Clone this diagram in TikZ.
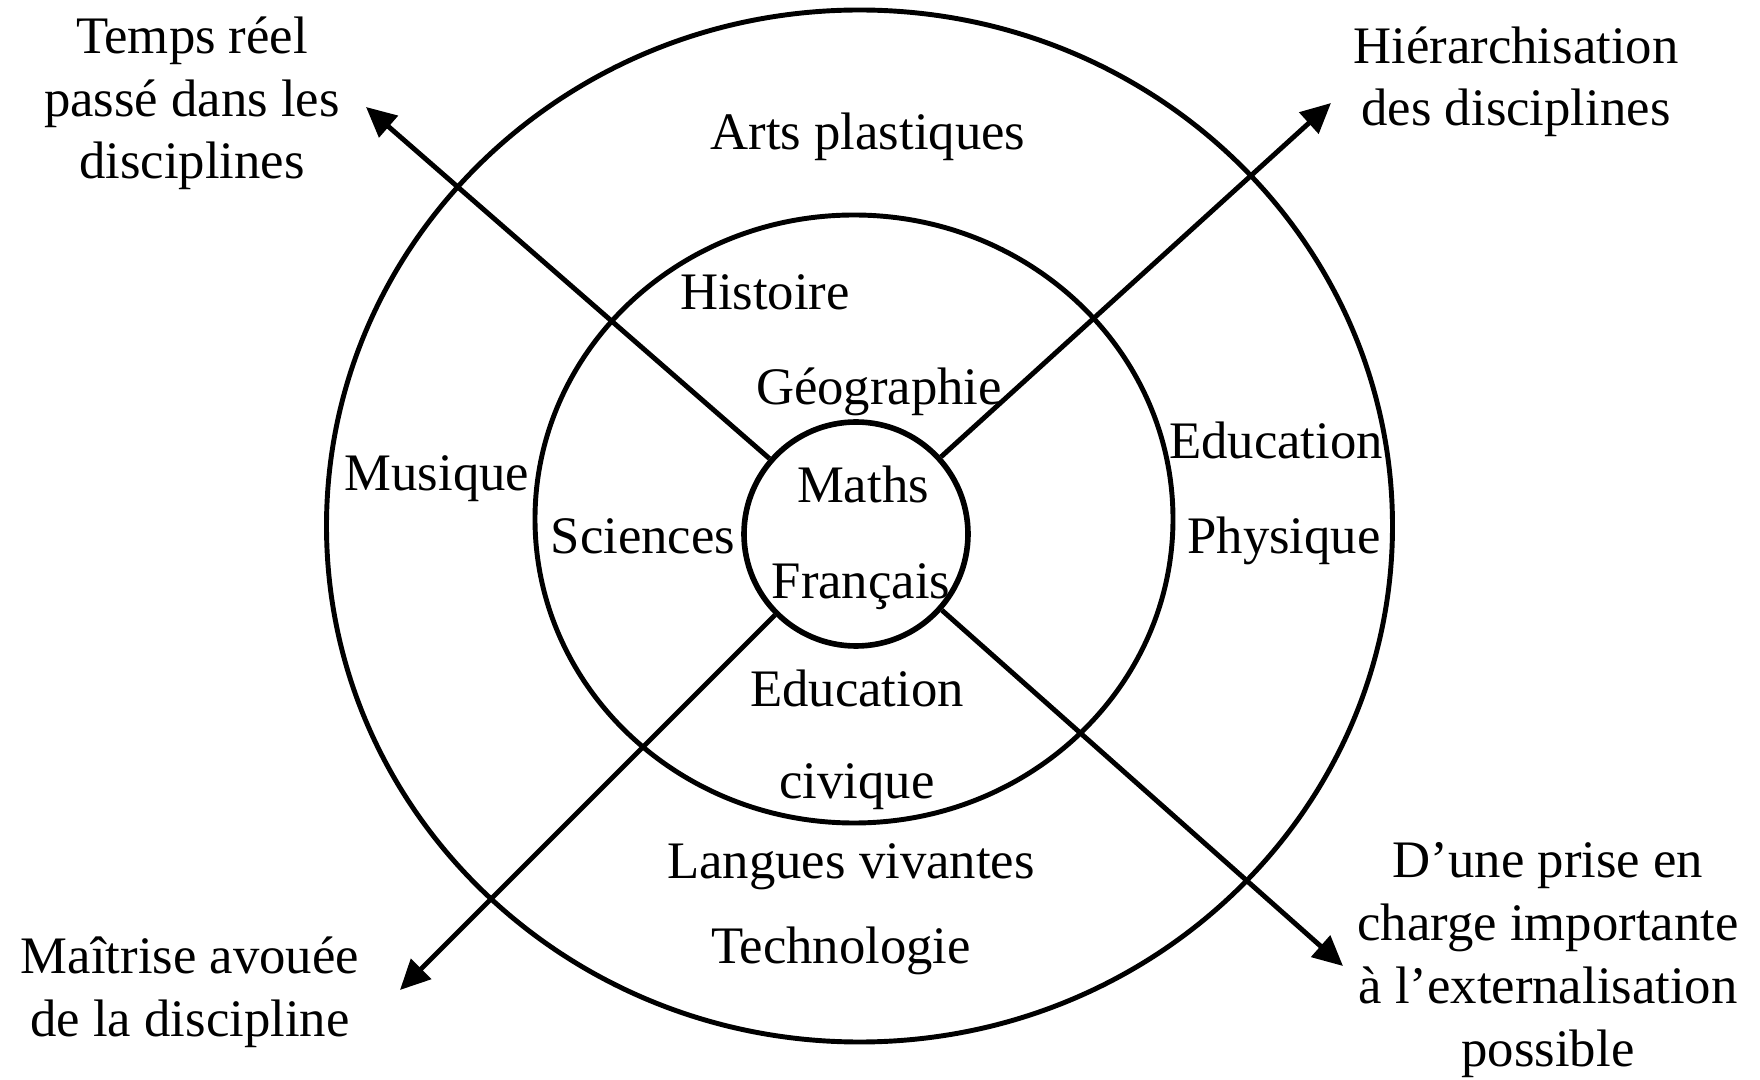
\documentclass[tikz,border=0pt]{standalone}
\usepackage{fontspec}
\setmainfont{Liberation Serif}
\usetikzlibrary{arrows.meta}
\begin{document}
\begin{tikzpicture}[line width=1.4pt,
  txt/.style={font=\fontsize{15}{17.9}\selectfont, inner sep=0pt, anchor=base, align=center},
  arr/.style={-{Triangle[length=3mm,width=2.8mm]}}]
  \useasboundingbox (0,0) rectangle (17.6,10.79);
  %Rings of disciplines
  \draw (8.595,5.53) ellipse (5.33 and 5.16);
  \draw (8.54,5.60) ellipse (3.19 and 3.04);
  \node at (8.56,5.45) [draw, circle, minimum size=2.24cm, line width=1.6pt, name=core] {};
  % Free ends of the four axes
  \coordinate (tl) at (3.66,9.72);
  \coordinate (tr) at (13.31,9.76);
  \coordinate (bl) at (4.00,0.89);
  \coordinate (br) at (13.43,1.13);
  \draw [arr] (core) -- (tl);
  \draw [arr] (core) -- (tr);
  \draw [arr] (core) -- (bl);
  \draw [arr] (core) -- (br);
  % Disciplines
  \node at (8.68,9.29) [txt, name=arts] {Arts plastiques};
  \node at (7.65,7.69) [txt, name=hist] {Histoire};
  \node at (8.79,6.74) [txt, name=geo] {Géographie};
  \node at (4.37,5.88) [txt, name=mus] {Musique};
  \node at (6.43,5.25) [txt, name=sci] {Sciences};
  \node at (8.63,5.76) [txt, name=maths] {Maths};
  \node at (8.61,4.80) [txt, name=fr] {Français};
  \node at (12.76,6.20) [txt, name=eps] {Education};
  \node at (12.84,5.25) [txt, name=phys] {Physique};
  \node at (8.57,3.72) [txt, name=edu] {Education};
  \node at (8.57,2.81) [txt, name=civ] {civique};
  \node at (8.51,2.00) [txt, name=lv] {Langues vivantes};
  \node at (8.41,1.15) [txt, name=techno] {Technologie};
  % Axis labels (base = last line)
  \node at (1.92,9.00) [txt, name=temps] {Temps réel\\passé dans les\\disciplines};
  \node at (15.16,9.53) [txt, name=hier] {Hiérarchisation\\des disciplines};
  \node at (1.90,0.43) [txt, name=maitrise] {Maîtrise avouée\\de la discipline};
  \node at (15.48,0.13) [txt, name=prise] {D’une prise en\\charge importante\\à l’externalisation\\possible};
\end{tikzpicture}
\end{document}
